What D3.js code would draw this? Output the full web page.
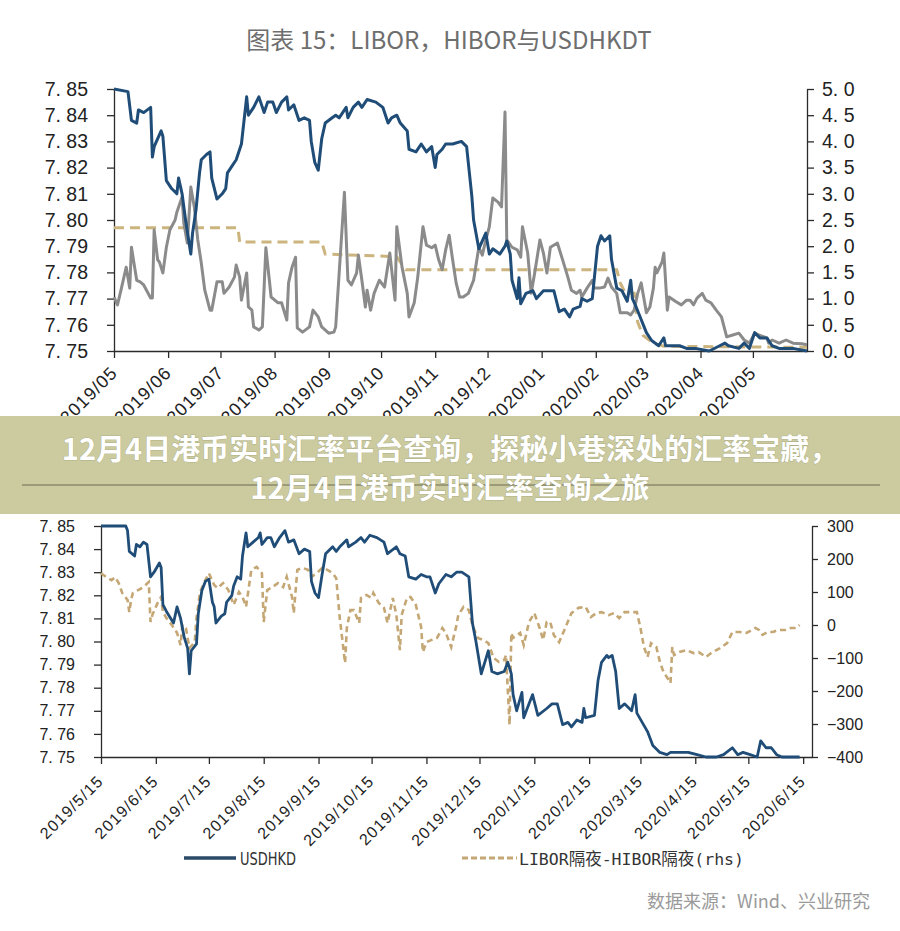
<!DOCTYPE html>
<html><head><meta charset="utf-8">
<script src="https://cdnjs.cloudflare.com/ajax/libs/d3/7.8.5/d3.min.js"></script>
<style>body{margin:0;background:#fff}svg{display:block}</style>
</head><body><svg id="c" width="900" height="931"></svg>
<script>
// ---------------- DATA ----------------
const titleText = "图表 15：LIBOR，HIBOR与USDHKDT";
const bannerLine1 = "12月4日港币实时汇率平台查询，探秘小巷深处的汇率宝藏，";
const bannerLine2 = "12月4日港币实时汇率查询之旅";
const sourceText = "数据来源：Wind、兴业研究";
const legendLabels = ["USDHKD", "LIBOR隔夜-HIBOR隔夜(rhs)"];

const leftTicks = [7.75, 7.76, 7.77, 7.78, 7.79, 7.80, 7.81, 7.82, 7.83, 7.84, 7.85];
const topRightTicks = [0, 0.5, 1.0, 1.5, 2.0, 2.5, 3.0, 3.5, 4.0, 4.5, 5.0];
const botRightTicks = [-400, -300, -200, -100, 0, 100, 200, 300];
const topMonthTicks = ["2019-05-01","2019-06-01","2019-07-01","2019-08-01","2019-09-01","2019-10-01","2019-11-01","2019-12-01","2020-01-01","2020-02-01","2020-03-01","2020-04-01","2020-05-01"];
const botMonthTicks = ["2019-05-15","2019-06-15","2019-07-15","2019-08-15","2019-09-15","2019-10-15","2019-11-15","2019-12-15","2020-01-15","2020-02-15","2020-03-15","2020-04-15","2020-05-15","2020-06-15"];

// top panel: USDHKD (left axis)
const topUsdhkd = [["2019-05-01",7.850],["2019-05-09",7.849],["2019-05-11",7.838],["2019-05-14",7.837],["2019-05-15",7.842],["2019-05-18",7.841],["2019-05-22",7.843],["2019-05-23",7.824],["2019-05-24",7.828],["2019-05-28",7.834],["2019-05-29",7.832],["2019-05-31",7.815],["2019-06-03",7.812],["2019-06-06",7.810],["2019-06-07",7.816],["2019-06-09",7.810],["2019-06-11",7.800],["2019-06-14",7.787],["2019-06-15",7.795],["2019-06-17",7.804],["2019-06-19",7.818],["2019-06-20",7.823],["2019-06-23",7.825],["2019-06-25",7.826],["2019-06-26",7.816],["2019-06-29",7.808],["2019-07-02",7.810],["2019-07-04",7.812],["2019-07-05",7.818],["2019-07-07",7.820],["2019-07-10",7.823],["2019-07-12",7.827],["2019-07-13",7.829],["2019-07-16",7.847],["2019-07-17",7.840],["2019-07-20",7.843],["2019-07-23",7.847],["2019-07-26",7.841],["2019-07-28",7.845],["2019-07-31",7.845],["2019-08-02",7.841],["2019-08-05",7.845],["2019-08-08",7.847],["2019-08-09",7.842],["2019-08-12",7.844],["2019-08-15",7.838],["2019-08-18",7.839],["2019-08-21",7.838],["2019-08-22",7.830],["2019-08-24",7.822],["2019-08-26",7.819],["2019-08-28",7.831],["2019-08-30",7.837],["2019-09-03",7.839],["2019-09-05",7.840],["2019-09-07",7.839],["2019-09-11",7.843],["2019-09-12",7.839],["2019-09-15",7.843],["2019-09-18",7.845],["2019-09-20",7.843],["2019-09-23",7.846],["2019-09-28",7.845],["2019-10-02",7.843],["2019-10-05",7.837],["2019-10-07",7.839],["2019-10-10",7.840],["2019-10-12",7.837],["2019-10-16",7.834],["2019-10-17",7.827],["2019-10-21",7.826],["2019-10-24",7.829],["2019-10-27",7.826],["2019-10-30",7.828],["2019-11-01",7.820],["2019-11-02",7.825],["2019-11-05",7.827],["2019-11-07",7.829],["2019-11-11",7.829],["2019-11-16",7.830],["2019-11-19",7.828],["2019-11-22",7.809],["2019-11-23",7.800],["2019-11-26",7.789],["2019-11-28",7.792],["2019-11-30",7.795],["2019-12-02",7.787],["2019-12-04",7.789],["2019-12-08",7.787],["2019-12-11",7.790],["2019-12-12",7.792],["2019-12-14",7.787],["2019-12-15",7.777],["2019-12-18",7.770],["2019-12-19",7.778],["2019-12-20",7.768],["2019-12-23",7.772],["2019-12-27",7.773],["2019-12-29",7.770],["2020-01-02",7.773],["2020-01-08",7.773],["2020-01-11",7.765],["2020-01-14",7.766],["2020-01-17",7.763],["2020-01-19",7.766],["2020-01-23",7.767],["2020-01-24",7.770],["2020-01-27",7.769],["2020-01-30",7.770],["2020-02-02",7.790],["2020-02-04",7.794],["2020-02-06",7.792],["2020-02-09",7.794],["2020-02-10",7.785],["2020-02-13",7.774],["2020-02-16",7.773],["2020-02-19",7.769],["2020-02-21",7.777],["2020-02-22",7.770],["2020-02-24",7.767],["2020-02-27",7.762],["2020-03-01",7.757],["2020-03-04",7.754],["2020-03-08",7.752],["2020-03-11",7.755],["2020-03-12",7.752],["2020-03-16",7.752],["2020-03-20",7.752],["2020-03-24",7.751],["2020-03-29",7.751],["2020-04-06",7.750],["2020-04-12",7.752],["2020-04-15",7.753],["2020-04-17",7.752],["2020-04-23",7.751],["2020-04-26",7.753],["2020-04-29",7.751],["2020-05-02",7.757],["2020-05-05",7.755],["2020-05-09",7.755],["2020-05-12",7.752],["2020-05-16",7.751],["2020-05-24",7.751],["2020-06-01",7.750]];

// top panel: HIBOR (grey, right axis)
const topHibor = [["2019-05-01",1.03],["2019-05-03",0.88],["2019-05-05",1.16],["2019-05-08",1.60],["2019-05-10",1.20],["2019-05-11",1.98],["2019-05-14",1.35],["2019-05-16",1.32],["2019-05-18",1.26],["2019-05-22",1.01],["2019-05-23",1.01],["2019-05-24",2.31],["2019-05-26",1.74],["2019-05-27",1.70],["2019-05-29",1.49],["2019-05-31",1.98],["2019-06-02",2.31],["2019-06-05",2.50],["2019-06-06",2.65],["2019-06-09",2.94],["2019-06-10",2.44],["2019-06-12",2.06],["2019-06-14",3.13],["2019-06-16",2.75],["2019-06-18",2.12],["2019-06-20",1.68],["2019-06-22",1.16],["2019-06-25",0.78],["2019-06-26",0.78],["2019-06-29",1.32],["2019-07-02",1.32],["2019-07-03",1.10],["2019-07-06",1.22],["2019-07-09",1.41],["2019-07-10",1.64],["2019-07-12",1.41],["2019-07-13",0.97],["2019-07-16",1.49],["2019-07-17",0.84],["2019-07-19",0.78],["2019-07-20",0.46],["2019-07-23",0.40],["2019-07-25",0.46],["2019-07-27",1.97],["2019-07-29",1.35],["2019-07-30",1.03],["2019-08-03",0.92],["2019-08-05",0.92],["2019-08-08",0.59],["2019-08-09",1.30],["2019-08-11",1.60],["2019-08-13",1.79],["2019-08-14",0.44],["2019-08-17",0.36],["2019-08-21",0.46],["2019-08-23",0.78],["2019-08-26",0.65],["2019-08-28",0.46],["2019-09-01",0.34],["2019-09-04",0.36],["2019-09-05",0.46],["2019-09-07",1.49],["2019-09-10",3.03],["2019-09-12",1.35],["2019-09-14",1.26],["2019-09-17",1.49],["2019-09-18",1.83],["2019-09-20",1.35],["2019-09-22",0.84],["2019-09-23",1.16],["2019-09-25",0.78],["2019-09-27",1.10],["2019-09-30",1.35],["2019-10-03",1.22],["2019-10-06",1.87],["2019-10-09",0.97],["2019-10-10",2.37],["2019-10-13",1.60],["2019-10-16",1.10],["2019-10-17",0.65],["2019-10-20",0.92],["2019-10-22",1.41],["2019-10-25",2.37],["2019-10-27",2.02],["2019-10-30",1.97],["2019-11-01",2.02],["2019-11-03",1.74],["2019-11-05",1.55],["2019-11-07",1.93],["2019-11-09",2.21],["2019-11-11",1.74],["2019-11-13",1.30],["2019-11-15",1.03],["2019-11-17",1.03],["2019-11-20",1.10],["2019-11-23",1.35],["2019-11-26",1.98],["2019-11-28",1.83],["2019-11-30",2.12],["2019-12-02",2.37],["2019-12-04",2.92],["2019-12-07",2.84],["2019-12-09",2.75],["2019-12-11",4.56],["2019-12-12",2.12],["2019-12-15",1.98],["2019-12-18",1.93],["2019-12-20",1.79],["2019-12-21",2.37],["2019-12-24",1.87],["2019-12-26",1.10],["2019-12-28",1.49],["2019-12-31",2.12],["2020-01-02",1.87],["2020-01-04",1.49],["2020-01-06",1.98],["2020-01-10",2.06],["2020-01-13",1.74],["2020-01-16",1.41],["2020-01-18",1.16],["2020-01-21",1.10],["2020-01-23",1.16],["2020-01-24",1.03],["2020-01-27",1.20],["2020-01-30",1.35],["2020-01-31",1.20],["2020-02-03",1.20],["2020-02-06",1.22],["2020-02-08",1.39],["2020-02-10",1.22],["2020-02-13",1.10],["2020-02-15",0.73],["2020-02-19",0.73],["2020-02-21",0.69],["2020-02-23",0.78],["2020-02-25",1.10],["2020-02-27",1.30],["2020-02-29",0.92],["2020-03-01",0.73],["2020-03-03",0.84],["2020-03-05",1.20],["2020-03-06",1.60],["2020-03-07",1.49],["2020-03-10",1.70],["2020-03-11",1.87],["2020-03-13",0.78],["2020-03-14",1.03],["2020-03-18",0.94],["2020-03-21",0.88],["2020-03-24",0.97],["2020-03-26",0.97],["2020-03-28",0.88],["2020-03-30",1.01],["2020-04-02",1.10],["2020-04-04",0.97],["2020-04-07",0.92],["2020-04-10",0.78],["2020-04-13",0.65],["2020-04-16",0.27],["2020-04-19",0.30],["2020-04-23",0.34],["2020-04-26",0.21],["2020-04-29",0.15],["2020-05-02",0.34],["2020-05-05",0.30],["2020-05-09",0.25],["2020-05-10",0.15],["2020-05-12",0.21],["2020-05-16",0.15],["2020-05-20",0.21],["2020-05-24",0.15],["2020-05-29",0.14],["2020-06-01",0.12]];

// top panel: LIBOR (tan dashed, right axis)
const topLibor = [["2019-05-01",2.35],["2019-07-11",2.35],["2019-07-12",2.08],["2019-08-28",2.08],["2019-08-30",1.85],["2019-10-10",1.80],["2019-10-15",1.55],["2020-02-13",1.55],["2020-02-15",1.30],["2020-02-18",1.10],["2020-02-23",1.10],["2020-02-25",0.55],["2020-02-28",0.30],["2020-03-05",0.15],["2020-03-11",0.09],["2020-06-01",0.07]];

// bottom panel: USDHKD (left axis)
const botUsdhkd = [["2019-05-15",7.850],["2019-05-29",7.850],["2019-05-30",7.848],["2019-05-31",7.839],["2019-06-03",7.837],["2019-06-04",7.842],["2019-06-06",7.841],["2019-06-08",7.843],["2019-06-10",7.842],["2019-06-12",7.828],["2019-06-14",7.830],["2019-06-17",7.834],["2019-06-18",7.832],["2019-06-19",7.816],["2019-06-21",7.813],["2019-06-25",7.808],["2019-06-27",7.815],["2019-06-29",7.810],["2019-07-01",7.802],["2019-07-03",7.797],["2019-07-04",7.786],["2019-07-05",7.796],["2019-07-08",7.799],["2019-07-09",7.812],["2019-07-11",7.822],["2019-07-13",7.826],["2019-07-15",7.827],["2019-07-17",7.817],["2019-07-18",7.815],["2019-07-19",7.808],["2019-07-22",7.811],["2019-07-24",7.812],["2019-07-25",7.817],["2019-07-28",7.820],["2019-07-29",7.824],["2019-07-31",7.828],["2019-08-02",7.827],["2019-08-03",7.837],["2019-08-05",7.847],["2019-08-06",7.841],["2019-08-09",7.843],["2019-08-12",7.845],["2019-08-13",7.847],["2019-08-14",7.842],["2019-08-17",7.845],["2019-08-19",7.845],["2019-08-21",7.841],["2019-08-24",7.845],["2019-08-27",7.848],["2019-08-29",7.843],["2019-09-01",7.844],["2019-09-04",7.838],["2019-09-07",7.840],["2019-09-10",7.839],["2019-09-11",7.826],["2019-09-13",7.821],["2019-09-15",7.819],["2019-09-17",7.829],["2019-09-19",7.838],["2019-09-23",7.841],["2019-09-25",7.839],["2019-09-27",7.841],["2019-10-01",7.844],["2019-10-02",7.841],["2019-10-06",7.843],["2019-10-09",7.845],["2019-10-11",7.843],["2019-10-14",7.846],["2019-10-18",7.845],["2019-10-22",7.843],["2019-10-24",7.838],["2019-10-29",7.841],["2019-10-31",7.838],["2019-11-03",7.837],["2019-11-05",7.828],["2019-11-09",7.827],["2019-11-12",7.829],["2019-11-15",7.828],["2019-11-17",7.828],["2019-11-20",7.821],["2019-11-22",7.825],["2019-11-26",7.829],["2019-11-29",7.828],["2019-12-02",7.830],["2019-12-05",7.830],["2019-12-09",7.828],["2019-12-11",7.808],["2019-12-13",7.800],["2019-12-16",7.786],["2019-12-20",7.796],["2019-12-22",7.787],["2019-12-25",7.786],["2019-12-29",7.787],["2019-12-31",7.791],["2020-01-02",7.786],["2020-01-03",7.777],["2020-01-05",7.770],["2020-01-08",7.778],["2020-01-09",7.767],["2020-01-12",7.773],["2020-01-14",7.777],["2020-01-17",7.768],["2020-01-22",7.771],["2020-01-25",7.773],["2020-01-28",7.773],["2020-01-31",7.764],["2020-02-03",7.765],["2020-02-05",7.763],["2020-02-08",7.766],["2020-02-11",7.765],["2020-02-12",7.771],["2020-02-13",7.767],["2020-02-18",7.768],["2020-02-20",7.783],["2020-02-22",7.791],["2020-02-25",7.794],["2020-02-26",7.793],["2020-02-28",7.794],["2020-03-01",7.787],["2020-03-03",7.771],["2020-03-06",7.773],["2020-03-10",7.770],["2020-03-12",7.777],["2020-03-13",7.769],["2020-03-16",7.765],["2020-03-19",7.761],["2020-03-22",7.755],["2020-03-26",7.752],["2020-03-30",7.751],["2020-04-01",7.752],["2020-04-06",7.752],["2020-04-11",7.752],["2020-04-16",7.751],["2020-04-21",7.750],["2020-04-27",7.750],["2020-05-01",7.751],["2020-05-06",7.754],["2020-05-09",7.751],["2020-05-12",7.752],["2020-05-16",7.751],["2020-05-20",7.750],["2020-05-22",7.757],["2020-05-25",7.754],["2020-05-28",7.754],["2020-05-31",7.751],["2020-06-03",7.750],["2020-06-13",7.750]];

// bottom panel: LIBOR O/N - HIBOR O/N spread (bp, right axis)
const botSpread = [["2019-05-15",157],["2019-05-18",145],["2019-05-21",136],["2019-05-23",145],["2019-05-25",127],["2019-05-27",97],["2019-05-30",76],["2019-05-31",39],["2019-06-01",76],["2019-06-02",97],["2019-06-05",106],["2019-06-08",115],["2019-06-11",130],["2019-06-12",9],["2019-06-13",30],["2019-06-16",67],["2019-06-18",85],["2019-06-19",39],["2019-06-21",21],["2019-06-24",0],["2019-06-27",-24],["2019-06-29",-61],["2019-06-30",0],["2019-07-02",-9],["2019-07-04",-70],["2019-07-07",-52],["2019-07-08",21],["2019-07-10",100],["2019-07-13",136],["2019-07-15",157],["2019-07-18",121],["2019-07-20",112],["2019-07-23",127],["2019-07-26",106],["2019-07-29",61],["2019-08-01",100],["2019-08-03",85],["2019-08-05",55],["2019-08-08",167],["2019-08-11",176],["2019-08-14",157],["2019-08-15",9],["2019-08-17",106],["2019-08-20",115],["2019-08-23",127],["2019-08-26",115],["2019-08-28",146],["2019-08-31",85],["2019-09-01",36],["2019-09-03",167],["2019-09-06",173],["2019-09-09",167],["2019-09-11",146],["2019-09-14",157],["2019-09-17",173],["2019-09-20",167],["2019-09-23",157],["2019-09-25",142],["2019-09-27",21],["2019-09-30",-115],["2019-10-01",-9],["2019-10-03",45],["2019-10-05",45],["2019-10-08",6],["2019-10-09",82],["2019-10-12",91],["2019-10-15",82],["2019-10-16",97],["2019-10-19",67],["2019-10-22",52],["2019-10-24",6],["2019-10-27",82],["2019-10-29",30],["2019-10-31",-76],["2019-11-01",30],["2019-11-04",82],["2019-11-06",85],["2019-11-09",61],["2019-11-12",-6],["2019-11-13",-82],["2019-11-15",-52],["2019-11-18",-45],["2019-11-21",-39],["2019-11-24",-9],["2019-11-26",-24],["2019-11-29",-67],["2019-12-02",0],["2019-12-03",30],["2019-12-06",55],["2019-12-09",45],["2019-12-11",0],["2019-12-14",-39],["2019-12-17",-45],["2019-12-20",-55],["2019-12-23",-100],["2019-12-26",-112],["2019-12-29",-106],["2019-12-30",-91],["2020-01-01",-303],["2020-01-02",-24],["2020-01-03",-39],["2020-01-07",-24],["2020-01-09",-61],["2020-01-12",9],["2020-01-15",36],["2020-01-18",-9],["2020-01-20",-45],["2020-01-22",9],["2020-01-24",9],["2020-01-26",-30],["2020-01-29",-52],["2020-02-01",-15],["2020-02-05",36],["2020-02-09",52],["2020-02-13",55],["2020-02-16",24],["2020-02-19",36],["2020-02-22",39],["2020-02-26",30],["2020-02-29",36],["2020-03-03",21],["2020-03-06",39],["2020-03-09",39],["2020-03-13",39],["2020-03-15",-9],["2020-03-17",-67],["2020-03-19",-97],["2020-03-21",-55],["2020-03-24",-67],["2020-03-26",-112],["2020-03-28",-142],["2020-03-31",-167],["2020-04-01",-176],["2020-04-02",-67],["2020-04-03",-91],["2020-04-06",-82],["2020-04-10",-76],["2020-04-14",-85],["2020-04-17",-82],["2020-04-21",-97],["2020-04-24",-85],["2020-04-29",-70],["2020-05-03",-55],["2020-05-06",-21],["2020-05-10",-21],["2020-05-14",-24],["2020-05-19",-9],["2020-05-21",-15],["2020-05-23",-30],["2020-05-26",-21],["2020-05-29",-21],["2020-06-01",-15],["2020-06-05",-15],["2020-06-08",-9],["2020-06-11",-9],["2020-06-13",0]];

// ---------------- DRAW ----------------
const parse = d3.timeParse("%Y-%m-%d");
const svg = d3.select("#c");
svg.append("rect").attr("width", 900).attr("height", 931).attr("fill", "#fff");

const C = {blue: "#1f4d78", grey: "#8b8b8b", tanTop: "#cbb47e", tanBot: "#c4a774", axis: "#2b2b2b", text: "#222"};
const numFont = "'Liberation Sans', Arial, sans-serif";
const cjk = "'Noto Sans CJK SC', sans-serif";

svg.append("text").attr("x", 449).attr("y", 49).attr("text-anchor", "middle")
  .attr("font-family", cjk).attr("font-size", 24).attr("fill", "#6e6e6e").text(titleText);

function styleAxis(g, fs) {
  g.selectAll("path,line").attr("stroke", C.axis).attr("stroke-width", 1.3);
  g.selectAll("text").attr("fill", C.text).attr("font-family", numFont).attr("font-size", fs);
}
const dotFmt = d3.format(".2f"), dotFmt1 = d3.format(".1f");

// ---- top panel ----
const xT = d3.scaleTime().domain([parse("2019-05-01"), parse("2020-06-01")]).range([114, 807]);
const yTL = d3.scaleLinear().domain([7.75, 7.85]).range([351, 89]);
const yTR = d3.scaleLinear().domain([0, 5]).range([351, 89]);

svg.append("g").attr("transform", "translate(114,0)")
  .call(d3.axisLeft(yTL).tickValues(leftTicks).tickSize(7).tickSizeOuter(0).tickPadding(19)
    .tickFormat(d => dotFmt(d).replace(".", ". ")))
  .call(g => styleAxis(g, 19.5));
svg.append("g").attr("transform", "translate(807,0)")
  .call(d3.axisRight(yTR).tickValues(topRightTicks).tickSize(7).tickSizeOuter(0).tickPadding(8)
    .tickFormat(d => dotFmt1(d).replace(".", ". ")))
  .call(g => styleAxis(g, 19.5));
svg.append("g").attr("transform", "translate(0,351)")
  .call(d3.axisBottom(xT).tickValues(topMonthTicks.map(parse)).tickSize(7).tickSizeOuter(0)
    .tickFormat(d3.timeFormat("%Y/%m")))
  .call(g => styleAxis(g, 18))
  .call(g => g.selectAll("text").attr("y", null).attr("dy", null).attr("text-anchor", "end")
    .attr("letter-spacing", 1).attr("transform", "translate(4,23) rotate(-45)"));

const lineT = (ys) => d3.line().x(d => xT(parse(d[0]))).y(d => ys(d[1]));
svg.append("path").datum(topLibor).attr("d", lineT(yTR)).attr("fill", "none")
  .attr("stroke", C.tanTop).attr("stroke-width", 3).attr("stroke-dasharray", "10,6");
svg.append("path").datum(topHibor).attr("d", lineT(yTR)).attr("fill", "none")
  .attr("stroke", C.grey).attr("stroke-width", 3).attr("stroke-linejoin", "round");
svg.append("path").datum(topUsdhkd).attr("d", lineT(yTL)).attr("fill", "none")
  .attr("stroke", C.blue).attr("stroke-width", 3).attr("stroke-linejoin", "round");

// ---- bottom panel ----
const xB = d3.scaleTime().domain([parse("2019-05-15"), parse("2020-06-20")]).range([101, 812]);
const yBL = d3.scaleLinear().domain([7.75, 7.85]).range([757, 526]);
const yBR = d3.scaleLinear().domain([-400, 300]).range([757, 526]);

svg.append("g").attr("transform", "translate(101,0)")
  .call(d3.axisLeft(yBL).tickValues(leftTicks).tickSize(7).tickSizeOuter(0).tickPadding(19)
    .tickFormat(d => dotFmt(d).replace(".", ". ")))
  .call(g => styleAxis(g, 16));
svg.append("g").attr("transform", "translate(812,0)")
  .call(d3.axisRight(yBR).tickValues(botRightTicks).tickSize(6).tickSizeOuter(0).tickPadding(9))
  .call(g => styleAxis(g, 16));
svg.append("g").attr("transform", "translate(0,757)")
  .call(d3.axisBottom(xB).tickValues(botMonthTicks.map(parse)).tickSize(7).tickSizeOuter(0)
    .tickFormat(d3.timeFormat("%Y/%-m/%-d")))
  .call(g => styleAxis(g, 16))
  .call(g => g.selectAll("text").attr("y", null).attr("dy", null).attr("text-anchor", "end")
    .attr("letter-spacing", 1.2).attr("transform", "translate(3,25) rotate(-45)"));

const lineB = (ys) => d3.line().x(d => xB(parse(d[0]))).y(d => ys(d[1]));
svg.append("path").datum(botSpread).attr("d", lineB(yBR)).attr("fill", "none")
  .attr("stroke", C.tanBot).attr("stroke-width", 2.6).attr("stroke-dasharray", "6,4");
svg.append("path").datum(botUsdhkd).attr("d", lineB(yBL)).attr("fill", "none")
  .attr("stroke", C.blue).attr("stroke-width", 2.8).attr("stroke-linejoin", "round");

// legend
svg.append("line").attr("x1", 184).attr("x2", 236).attr("y1", 858).attr("y2", 858)
  .attr("stroke", "#2a4a68").attr("stroke-width", 3.5);
svg.append("text").attr("x", 240).attr("y", 865).attr("font-family", "'Liberation Sans Narrow', 'DejaVu Sans Condensed', sans-serif")
  .attr("font-size", 17).attr("fill", "#333").attr("textLength", 56).attr("lengthAdjust", "spacingAndGlyphs")
  .text(legendLabels[0]);
svg.append("line").attr("x1", 462).attr("x2", 517).attr("y1", 858).attr("y2", 858)
  .attr("stroke", C.tanBot).attr("stroke-width", 3).attr("stroke-dasharray", "6,3");
svg.append("text").attr("x", 519).attr("y", 865).attr("font-family", "'DejaVu Sans Mono', 'Noto Sans CJK SC', monospace")
  .attr("font-size", 16.5).attr("fill", "#333").text(legendLabels[1]);

// source
svg.append("text").attr("x", 870).attr("y", 908).attr("text-anchor", "end")
  .attr("font-family", cjk).attr("font-size", 18).attr("fill", "#9a9a9a").text(sourceText);

// banner
svg.append("rect").attr("x", 0).attr("y", 416).attr("width", 900).attr("height", 98).attr("fill", "#cbcb9f");
svg.append("line").attr("x1", 22).attr("x2", 880).attr("y1", 485).attr("y2", 485)
  .attr("stroke", "#6a6a55").attr("stroke-width", 1);
[[bannerLine1, 460], [bannerLine2, 499]].forEach(([t, y]) => {
  svg.append("text").attr("x", 450).attr("y", y).attr("text-anchor", "middle")
    .attr("font-family", cjk).attr("font-weight", 700).attr("font-size", 29)
    .attr("fill", "#fff").attr("stroke", "rgba(90,90,60,0.25)").attr("stroke-width", 1)
    .attr("paint-order", "stroke").text(t);
});
</script></body></html>
